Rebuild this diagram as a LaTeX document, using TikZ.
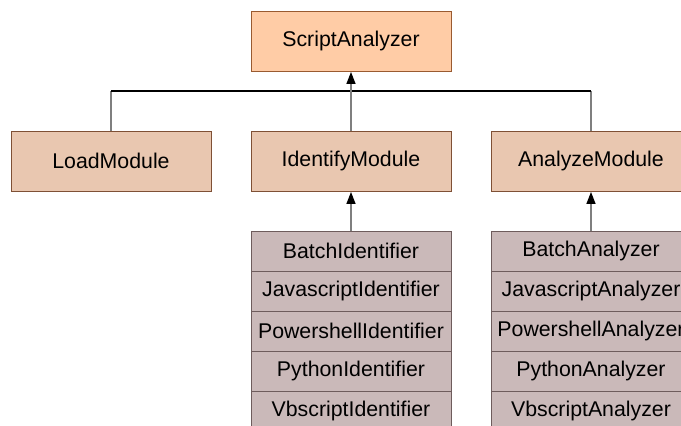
\documentclass[tikz,border=0pt]{standalone}
\usepackage{fontspec}
\setmainfont{Liberation Sans}
\usetikzlibrary{arrows.meta}
\definecolor{rootfill}{HTML}{FFCCA6}
\definecolor{rootdraw}{HTML}{9A5A30}
\definecolor{modfill}{HTML}{E9C7B0}
\definecolor{moddraw}{HTML}{7F5035}
\definecolor{itemfill}{HTML}{CAB9B9}
\definecolor{itemdraw}{HTML}{6E5C5C}
\definecolor{linkgray}{HTML}{7F7F7F}
\tikzset{
  box/.style={draw, line width=0.9pt, minimum width=200pt, minimum height=60pt,
    inner sep=0pt, font=\fontsize{21.3pt}{24pt}\selectfont, text=black},
  rootbox/.style={box, fill=rootfill, draw=rootdraw},
  modbox/.style={box, fill=modfill, draw=moddraw},
  itembox/.style={box, fill=itemfill, draw=itemdraw, minimum height=40pt},
  uplink/.style={draw=linkgray, line width=1.3pt, shorten >=0.5pt,
    arrows={-Triangle[length=12pt,width=9pt,black,fill=black]}},
  bus/.style={draw=black, line width=1.2pt},
  drop/.style={draw=linkgray, line width=1.3pt}
}
\begin{document}
\begin{tikzpicture}[x=1pt,y=-1pt]
\useasboundingbox (0,0) rectangle (681,426);
\clip (0,0) rectangle (681,426);
% top node
\node[rootbox] (root) at (351,41) {ScriptAnalyzer};
% modules
\node[modbox] (load) at (111,161) {LoadModule};
\node[modbox] (ident) at (351,161) {IdentifyModule};
\node[modbox] (anal) at (591,161) {AnalyzeModule};
% identifier stack
\node[itembox] (i1) at (351,251) {BatchIdentifier};
\node[itembox] (i2) at (351,291) {JavascriptIdentifier};
\node[itembox] (i3) at (351,331) {PowershellIdentifier};
\node[itembox] (i4) at (351,371) {PythonIdentifier};
\node[itembox] (i5) at (351,411) {VbscriptIdentifier};
% analyzer stack
\node[itembox] (a1) at (591,251) {BatchAnalyzer};
\node[itembox] (a2) at (591,291) {JavascriptAnalyzer};
\node[itembox] (a3) at (591,331) {PowershellAnalyzer};
\node[itembox] (a4) at (591,371) {PythonAnalyzer};
\node[itembox] (a5) at (591,411) {VbscriptAnalyzer};
% bus joining the modules to the root
\coordinate (busL) at (111,91);
\coordinate (busR) at (591,91);
\draw[drop] (load.north) -- (busL);
\draw[drop] (anal.north) -- (busR);
\draw[bus] (busL) -- (busR);
\draw[uplink] (ident.north) -- (root.south);
% stacks to their modules
\draw[uplink] (i1.north) -- (ident.south);
\draw[uplink] (a1.north) -- (anal.south);
\end{tikzpicture}
\end{document}
